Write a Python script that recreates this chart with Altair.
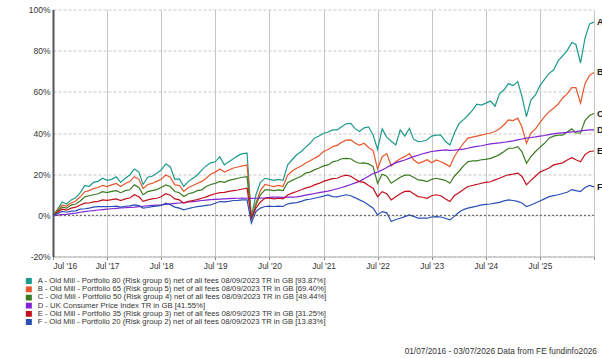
import altair as alt
import pandas as pd

letters = ["A", "B", "C", "D", "E", "F"]
names = [
    "A - Old Mill - Portfolio 80 (Risk group 6) net of all fees 08/09/2023 TR in GB [93.87%]",
    "B - Old Mill - Portfolio 65 (Risk group 5) net of all fees 08/09/2023 TR in GB [69.40%]",
    "C - Old Mill - Portfolio 50 (Risk group 4) net of all fees 08/09/2023 TR in GB [49.44%]",
    "D - UK Consumer Price Index TR in GB [41.55%]",
    "E - Old Mill - Portfolio 35 (Risk group 3) net of all fees 08/09/2023 TR in GB [31.25%]",
    "F - Old Mill - Portfolio 20 (Risk group 2) net of all fees 08/09/2023 TR in GB [13.83%]",
]
colors = ["#1e9a8b", "#e8562b", "#3c7b22", "#8024d4", "#c4101c", "#2a50b6"]
footer = "01/07/2016 - 03/07/2026 Data from FE fundinfo2026"
tick_years = list(range(2016, 2027))
y_ticks = [-20, 0, 20, 40, 60, 80, 100]

# monthly observations, Jul 2016 .. Jul 2026 (121 points), cumulative % return
A = [0, 3, 6.5, 5.5, 7.5, 8.5, 11, 14.5, 14, 16,
     16.5, 18, 17, 17.5, 18.7, 16, 18, 19.6, 22.5, 21,
     15, 18.5, 19, 20.5, 22, 25, 23.5, 17.5, 17.7, 14,
     16.5, 18, 19.5, 22, 24, 25.5, 26, 28.4, 24.5, 26,
     27.5, 29, 30, 30.2, -1, 10, 16, 18, 17.5, 17,
     17.5, 17, 24.5, 27, 29.4, 31, 33, 35, 37.5, 38.5,
     39.9, 40.5, 41.5, 41.5, 43, 44.5, 44.7, 42, 40.7, 42.5,
     43, 39, 32, 42, 38, 36, 34.2, 41.5, 38.5, 42.3,
     37, 35.8, 36, 36.7, 38.5, 39, 39, 36, 34.2, 39.9,
     44.5, 46.5, 48.5, 51, 54, 53.6, 54.5, 55.5, 53, 59,
     61, 64, 63, 65, 58, 48, 56, 58.5, 63, 66,
     69, 70.6, 75, 77.5, 80, 84, 83, 74, 86, 93,
     93.87]
B = [0, 2.5, 5, 4.5, 6, 7, 9, 11.5, 12, 13,
     13.5, 14.5, 14, 14.8, 15.5, 14, 15.5, 16.4, 18.8, 17.5,
     13, 15, 15.5, 16.5, 17.5, 19.6, 18.5, 14.8, 14.5, 11.6,
     13.5, 14.5, 15.5, 16.5, 18, 20, 21, 22.5, 21, 22,
     23, 23.5, 24, 24.5, -1.5, 6, 12, 15, 14.5, 14,
     14.5, 14, 19.6, 21.5, 22.9, 24, 25.3, 26.5, 27.7, 29,
     31, 32, 33.4, 34, 35.5, 36.5, 36.7, 35, 34, 35,
     33, 31.5, 22.5, 28.5, 30, 24, 26, 27.5, 28.5, 30,
     27, 25.3, 26, 27, 25.5, 26.9, 26, 25, 23.7, 28.5,
     32, 35, 37.5, 38, 38.5, 39, 39.5, 40, 40.7, 42,
     44, 46.4, 46, 47.2, 43, 35, 40, 42, 45, 48,
     50.4, 52, 54, 57, 59, 62, 62, 54.5, 64, 68,
     69.4]
C = [0, 2, 4, 3.5, 5, 5.5, 7, 9, 9.5, 10,
     10.5, 11.5, 11, 11.6, 12, 11, 12, 12.4, 14.8, 13.5,
     10, 11.5, 12, 12.5, 13.5, 14.8, 14, 11.6, 11, 9.2,
     10.5, 11, 12, 12.4, 14, 15, 15.5, 16.5, 16, 17,
     17.5, 18, 18.5, 18.8, -2, 5, 10, 12.4, 12.4, 12,
     12.4, 12, 15.9, 17, 18, 19, 20.5, 21, 22.1, 23,
     24, 24.5, 26, 26.5, 27.5, 27.7, 27.5, 26, 25.3, 25.5,
     25, 23.7, 15.6, 20, 19, 15.6, 17, 18.5, 19.5, 19.6,
     18.5, 17.2, 17, 16.4, 17.5, 18, 17.5, 17, 15.6, 19,
     21.3, 24, 26, 26.5, 26.5, 27, 27.2, 27.7, 28.5, 29.5,
     31, 32.6, 32.6, 33.4, 31, 25.3, 28.5, 31, 33, 35,
     37.5, 38.5, 39, 39, 40.5, 42, 40, 40, 46, 48.5,
     49.44]
D = [0, 0.1, 0.3, 0.5, 0.8, 1.1, 1.5, 1.8, 2.1, 2.3,
     2.6, 2.8, 3, 3.2, 3.4, 3.6, 3.7, 3.9, 4, 4.2,
     4.4, 4.6, 4.8, 5, 5.1, 5.3, 5.6, 5.8, 6, 6.2,
     6.5, 6.7, 6.9, 7.2, 7.4, 7.6, 7.8, 7.9, 8, 8.1,
     8.2, 8.3, 8.4, 8.3, 8.2, 8.3, 8.4, 8.5, 8.7, 8.8,
     8.8, 8.7, 8.8, 8.8, 9, 9.3, 9.8, 10.2, 10.6, 11,
     11.4, 11.8, 12.3, 12.9, 13.5, 14.2, 15, 15.8, 16.5, 17.8,
     19, 20.3, 21, 22, 23.2, 24.5, 25.5, 26.2, 26.9, 27.8,
     28.5, 29.2, 29.9, 30.5, 31, 31.3, 31.6, 31.8, 31.6, 31.7,
     31.9, 32.2, 32.6, 33.1, 33.5, 33.8, 34.3, 34.7, 35, 35.2,
     35.5, 35.8, 36.2, 36.7, 37.1, 37.5, 37.8, 38.1, 38.5, 38.8,
     39.2, 39.6, 39.9, 40.1, 40.3, 40.5, 40.7, 41, 41.3, 41.5,
     41.55]
E = [0, 1.5, 3, 2.5, 3.5, 4, 5, 5.9, 6, 6.5,
     6.8, 7.5, 7.3, 7.6, 8, 7.2, 8, 8.4, 10, 9,
     6.8, 7.5, 8, 8.3, 9, 10.5, 9.8, 8, 7.5, 5.9,
     6.8, 7.2, 7.6, 8.3, 9, 9.8, 10.5, 11, 11.2, 11.6,
     12, 12.3, 12.8, 13.2, -1.5, 3.5, 6.5, 8.3, 8.3, 8,
     8.3, 8, 9.9, 10.8, 11.6, 12.4, 13.2, 13.8, 14.8, 15.5,
     16.5, 17.2, 17.8, 18, 19, 19.5, 19, 17.5, 16.4, 16,
     14.5, 13.2, 9.1, 11.5, 10.5, 7.5, 9, 10.5, 11.6, 11.8,
     10.5, 9.1, 8.8, 8.3, 9.5, 10, 9.5, 8, 6.7, 9.5,
     11, 12.5, 14, 14.5, 15, 15.6, 16, 16.3, 17.2, 18,
     19, 19.7, 20, 20.5, 19, 14.8, 17, 19, 21, 22,
     23, 24.5, 25, 25.5, 26.9, 28, 27, 26, 29.5, 31,
     31.25]
F = [0, 0.8, 1.9, 1.5, 2, 2.2, 3, 3.2, 3.5, 4,
     4.2, 4.3, 4.2, 4.3, 4.5, 4, 4.4, 4.6, 5.1, 4.7,
     3.5, 3.8, 4.2, 4.5, 4.8, 5.9, 5.2, 4, 3.5, 2.7,
     3.3, 3.8, 4.2, 4.5, 4.8, 5.1, 5.9, 6.7, 6.5, 6.8,
     7.2, 7.3, 7.5, 7.5, -3.8, 1.9, 3.5, 4.3, 4.5, 4.3,
     4.5, 4.3, 5.6, 5.9, 6.2, 6.8, 7.5, 7.8, 8.3, 8.8,
     9.3, 9.9, 9.1, 9, 9.5, 10, 9.5, 8.5, 7.5, 6.5,
     5, 3.5, 0.2, 1.8, 1.2, -3, -2, -1.4, -0.6, 0.2,
     -0.5, -1.4, -1.4, -1.4, -0.8, -0.6, -0.8, -1.4, -2.2, -0.5,
     1.5, 2.8, 3.5, 4, 4.5, 5.1, 5.3, 5.5, 5.9, 6.3,
     7, 7.5, 7.2, 6.8, 6, 4.3, 5, 6, 7, 8,
     9.1, 9.6, 10, 10.6, 11.2, 12.5, 12, 11.5, 13.5, 14.5,
     13.83]

series = [A, B, C, D, E, F]
dates = pd.date_range("2016-07-01", periods=121, freq="MS")

rows = []
for L, n, vals in zip(letters, names, series):
    assert len(vals) == len(dates), (L, len(vals))
    for d, v in zip(dates, vals):
        rows.append({"date": d.strftime("%Y-%m-%d"), "value": v, "name": n, "letter": L})
df = pd.DataFrame(rows)
end_df = df[df["date"] == df["date"].max()]

FONT = "Liberation Sans"
GRID = "#c6c6c6"
x_dom = [alt.DateTime(year=2016, month=7, date=1, utc=True),
         alt.DateTime(year=2026, month=7, date=1, utc=True)]
x_ticks = [alt.DateTime(year=y, month=7, date=1, utc=True) for y in tick_years]
xscale = alt.Scale(type="utc", domain=x_dom)
yscale = alt.Scale(domain=[-20, 100], nice=False, zero=False)

xenc = alt.X(
    "date:T", scale=xscale,
    axis=alt.Axis(
        values=x_ticks,
        labelExpr="utcyear(datum.value) == 2026 ? '' : utcFormat(datum.value, \"%b '%y\")",
        title=None, labelFlush=True, grid=True, gridColor=GRID, gridOpacity=1, gridWidth=1,
        domainColor="#b0b0b0", tickColor="#888888", tickSize=3, labelPadding=2,
        labelFont=FONT, labelColor="#333333", labelFontSize=8.3,
    ),
)
yenc = alt.Y(
    "value:Q", scale=yscale,
    axis=alt.Axis(
        values=y_ticks, labelExpr="datum.value + '%'", title=None,
        grid=True, gridColor=GRID, gridOpacity=1, gridWidth=1, gridDash=[3, 2],
        domainColor="#555555", domainWidth=2, ticks=False,
        labelFont=FONT, labelColor="#333333", labelFontSize=8.5, labelPadding=3,
    ),
)

lines = alt.Chart(df).mark_line(strokeWidth=1.2).encode(
    x=xenc,
    y=yenc,
    color=alt.Color(
        "name:N",
        scale=alt.Scale(domain=names, range=colors),
        sort=names,
        legend=alt.Legend(
            orient="none", legendX=-28, legendY=268.5, title=None,
            symbolType="square", symbolSize=9, symbolStrokeWidth=3,
            labelFontSize=7.7, labelFont=FONT, labelColor="#333333",
            labelLimit=0, rowPadding=0.2, padding=0, labelOffset=5,
            clipHeight=6,
        ),
    ),
)

zero = alt.Chart(pd.DataFrame({"z": [0]})).mark_rule(
    color="#555555", strokeDash=[2, 2], strokeWidth=1
).encode(y=alt.Y("z:Q", scale=yscale))

labels = alt.Chart(end_df).mark_text(
    align="left", baseline="middle", dx=3, fontSize=9, fontWeight="bold",
    font=FONT, color="#222222",
).encode(x=alt.X("date:T", scale=xscale), y=alt.Y("value:Q", scale=yscale), text="letter:N")

foot = alt.Chart(pd.DataFrame({"t": [footer]})).mark_text(
    align="right", baseline="middle", fontSize=8.3, font=FONT, color="#333333"
).encode(x=alt.value(544), y=alt.value(342), text="t:N")

chart = alt.layer(lines, zero, labels, foot).properties(
    width=541, height=247,
    padding={"left": 53, "top": 9.5, "right": 8, "bottom": 101.5},
    autosize=alt.AutoSizeParams(type="none"),
    background="white",
).configure_view(stroke=None)

chart.save("out.html", embed_options={"renderer": "svg", "actions": False})
